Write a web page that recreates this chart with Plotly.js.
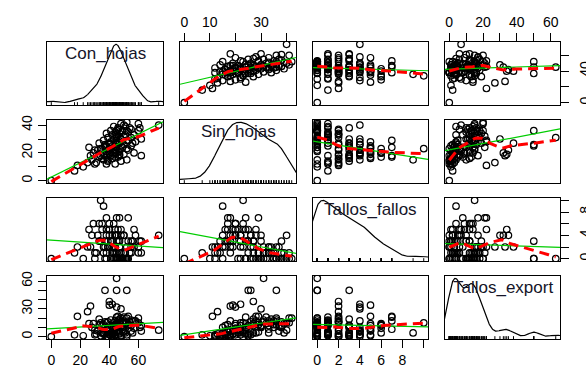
<!DOCTYPE html>
<html><head><meta charset="utf-8">
<script src="https://cdn.plot.ly/plotly-3.0.1.min.js"></script>
<style>html,body{margin:0;padding:0;background:#fff;}#chart{width:586px;height:367px;}</style>
</head><body><div id="chart"></div>
<script>
// ---- data ----
const varNames = ['Con_hojas', 'Sin_hojas', 'Tallos_fallos', 'Tallos_export'];
const conHojas = [0,16,18,22,25,27,37,45,52,45,40,42,45,48,40,74,60,52,61,34,36,38,45,47,53,
  30,38,44,39,31,52,28,48,35,42,57,62,33,46,41,36,50,29,44,38,47,53,32,43,40,35,49,26,45,42,55,37,50,44,33,47,58,41,46,36,52,43,48,39,55,45,50,42,57,47,38,53,44,49,60,46,54,51,43,48,40,34,52,45,56,37,44,30,62,41,
  46,50,43,48,55,42,38,44,47,40,49,51,45,39,44];
const sinHojas = [0,7,11,10,13,18,25,26,36,31,27,22,20,30,19,40,41,42,38,23,15,17,24,18,29,
  12,12,12,14,13,15,15,14,16,16,20,18,17,17,18,19,19,20,20,21,21,22,22,22,23,23,24,24,24,25,25,26,26,27,27,27,28,28,28,29,29,30,30,31,31,32,32,33,33,34,34,35,35,36,36,37,38,39,20,25,26,18,23,29,27,24,33,22,30,36,
  38,40,39,41,37,16,18,17,19,20,35,33,36,15,22];
const tallosFallos = [0,1,2,0,2,2,3,0,0,0,2,4,4,4,5,4,1,0,3,10,9,7,7,7,7,
  1,0,2,3,1,0,4,1,5,2,5,1,6,3,3,2,4,6,4,5,0,3,4,2,5,6,0,5,3,1,3,2,4,0,3,1,4,0,5,1,0,0,0,2,1,0,1,1,2,2,1,0,1,0,2,0,1,0,6,5,4,3,2,1,3,0,2,0,3,0,
  0,0,1,0,2,3,4,5,3,6,0,1,0,2,4];
const tallosExport = [0,2,22,1,27,33,50,50,50,63,38,35,32,30,34,7,15,20,10,15,4,8,21,17,22,
  2,0,1,0,3,2,10,1,12,3,9,6,13,5,2,3,6,14,2,7,4,12,6,15,6,4,8,14,10,3,12,16,5,12,19,14,17,4,22,13,15,10,11,16,18,14,21,12,17,19,15,13,17,16,20,11,16,14,12,1,2,1,0,5,4,3,8,7,12,18,
  12,15,4,20,6,1,0,2,3,9,10,4,13,0,2];

// tick positions and the labels R kept
const conTicks = [0, 20, 40, 60];
const conBottomLabels = ['0', '20', '40', '60'];
const conRightLabels = ['0', '', '40', ''];
const sinTicks = [0, 10, 20, 30, 40];
const sinTopLabels = ['0', '10', '', '30', ''];
const sinLeftLabels = ['0', '', '20', '', '40'];
const fallosTicks = [0, 2, 4, 6, 8, 10];
const fallosBottomLabels = ['0', '2', '4', '6', '8', ''];
const fallosRightLabels = ['0', '', '4', '', '8', ''];
const exportTicks = [0, 10, 20, 30, 40, 50, 60];
const exportTopLabels = ['0', '', '20', '', '40', '', '60'];
const exportLeftLabels = ['0', '', '', '30', '', '', '60'];

// ---- stats helpers ----
const vars = [conHojas, sinHojas, tallosFallos, tallosExport];
const mean = a => a.reduce((s, v) => s + v, 0) / a.length;
function sd(a) { const m = mean(a); return Math.sqrt(a.reduce((s, v) => s + (v - m) * (v - m), 0) / (a.length - 1)); }
function quantile(a, p) { const s = a.slice().sort((x, y) => x - y); const h = (s.length - 1) * p; const lo = Math.floor(h); return s[lo] + (h - lo) * ((s[Math.min(lo + 1, s.length - 1)]) - s[lo]); }
function median(a) { return quantile(a, 0.5); }
function bwNrd0(a) { const lo = Math.min(sd(a), (quantile(a, .75) - quantile(a, .25)) / 1.34); return 0.9 * lo * Math.pow(a.length, -0.2); }
function density(a) {
  const bw = bwNrd0(a), mn = Math.min(...a), mx = Math.max(...a);
  const g0 = mn - 3 * bw, g1 = mx + 3 * bw, xs = [], ys = [];
  for (let i = 0; i < 512; i++) {
    const g = g0 + (g1 - g0) * i / 511; let s = 0;
    for (const v of a) { const z = (g - v) / bw; s += Math.exp(-0.5 * z * z); }
    xs.push(g); ys.push(s / (a.length * bw * Math.sqrt(2 * Math.PI)));
  }
  return { xs, ys };
}
function lm(x, y) {
  const mx = mean(x), my = mean(y); let sxy = 0, sxx = 0;
  for (let i = 0; i < x.length; i++) { sxy += (x[i] - mx) * (y[i] - my); sxx += (x[i] - mx) ** 2; }
  const b = sxy / sxx; return { a: my - b * mx, b };
}
function loess(x, y, span, xs) {
  const n = x.length, q = Math.max(2, Math.floor(span * n));
  let rw = new Array(n).fill(1);
  function fitAt(x0) {
    const d = x.map(v => Math.abs(v - x0)); const sd2 = d.slice().sort((a, b) => a - b);
    let h = sd2[q - 1]; if (h <= 0) h = 1e-6; h *= 1.0001;
    let sw = 0, swx = 0, swy = 0, swxx = 0, swxy = 0;
    for (let i = 0; i < n; i++) {
      const u = d[i] / h; if (u >= 1) continue;
      const w = Math.pow(1 - u * u * u, 3) * rw[i]; if (w <= 0) continue;
      sw += w; swx += w * x[i]; swy += w * y[i]; swxx += w * x[i] * x[i]; swxy += w * x[i] * y[i];
    }
    if (sw === 0) return NaN;
    const den = sw * swxx - swx * swx;
    if (Math.abs(den) < 1e-9 * sw * sw) return swy / sw;
    const b = (sw * swxy - swx * swy) / den; return (swy - b * swx) / sw + b * x0;
  }
  for (let it = 0; it < 3; it++) {
    const res = x.map((v, i) => y[i] - fitAt(v));
    const s = median(res.map(Math.abs)) || 1e-6;
    rw = res.map(r => { const u = r / (6 * s); return Math.abs(u) < 1 ? (1 - u * u) ** 2 : 0; });
  }
  return xs.map(fitAt);
}

// ---- layout geometry (pixels) ----
const W = 586, H = 367;
const colPx = [[47, 163], [180, 296], [313, 428], [445, 560]];
const rowPx = [[42, 105], [120, 183], [198, 261], [276, 339]];
const ranges = vars.map(v => { const mn = Math.min(...v), mx = Math.max(...v), p = 0.04 * (mx - mn); return [mn - p, mx + p]; });

const traces = [], layout = {
  width: W, height: H, margin: { l: 0, r: 0, t: 0, b: 0, pad: 0 },
  paper_bgcolor: '#fff', plot_bgcolor: '#fff', showlegend: false,
  font: { family: 'Liberation Sans, Arial, sans-serif', color: '#000', size: 14 },
  annotations: []
};
function baseAxis(domain, range) {
  return { domain, range, showline: true, mirror: true, linecolor: '#000', linewidth: 1,
    showgrid: false, zeroline: false, ticks: '', showticklabels: false, fixedrange: true };
}
function withTicks(ax, side, vals, text, isY, standoff) {
  return Object.assign(ax, { side, ticks: 'outside', ticklen: 8, tickwidth: 1, tickcolor: '#000',
    tickmode: 'array', tickvals: vals, ticktext: text, showticklabels: true, ticklabelstandoff: standoff || 0,
    tickfont: { size: 14, color: '#000' }, tickangle: isY ? -90 : 0 });
}

for (let i = 0; i < 4; i++) {
  for (let j = 0; j < 4; j++) {
    const k = i * 4 + j + 1, xs = k === 1 ? 'x' : 'x' + k, ys = k === 1 ? 'y' : 'y' + k;
    const xdom = [colPx[j][0] / W, colPx[j][1] / W];
    const ydom = [1 - rowPx[i][1] / H, 1 - rowPx[i][0] / H];
    const xa = baseAxis(xdom, ranges[j]); xa.anchor = ys;
    const ya = baseAxis(ydom, ranges[i]); ya.anchor = xs;
    // outer axes like R pairs()
    if (i === 0 && j === 1) withTicks(xa, 'top', sinTicks, sinTopLabels, false);
    if (i === 0 && j === 3) withTicks(xa, 'top', exportTicks, exportTopLabels, false);
    if (i === 3 && j === 0) withTicks(xa, 'bottom', conTicks, conBottomLabels, false);
    if (i === 3 && j === 2) withTicks(xa, 'bottom', fallosTicks, fallosBottomLabels, false);
    if (j === 0 && i === 1) withTicks(ya, 'left', sinTicks, sinLeftLabels, true);
    if (j === 0 && i === 3) withTicks(ya, 'left', exportTicks, exportLeftLabels, true);
    if (j === 3 && i === 0) withTicks(ya, 'right', conTicks, conRightLabels, true, 4);
    if (j === 3 && i === 2) withTicks(ya, 'right', fallosTicks, fallosRightLabels, true, 4);
    layout[k === 1 ? 'xaxis' : 'xaxis' + k] = xa;
    layout[k === 1 ? 'yaxis' : 'yaxis' + k] = ya;

    if (i === j) {
      const v = vars[i], d = density(v), vmin = Math.min(...v), vmax = Math.max(...v);
      const dmin = Math.min(...d.ys), dmax = Math.max(...d.ys);
      traces.push({ type: 'scatter', mode: 'lines', xaxis: xs, yaxis: ys, x: d.xs,
        y: d.ys.map(y => vmin + (y - dmin) * (vmax - vmin) / (dmax - dmin)),
        line: { color: '#000', width: 1.2 }, hoverinfo: 'skip' });
      const r = ranges[i], rx = [], ry = [], th = 0.045 * (r[1] - r[0]);
      for (const val of v) { rx.push(val, val, null); ry.push(r[0], r[0] + th, null); }
      traces.push({ type: 'scatter', mode: 'lines', xaxis: xs, yaxis: ys, x: rx, y: ry,
        line: { color: '#000', width: 1 }, hoverinfo: 'skip' });
      layout.annotations.push({ xref: 'paper', yref: 'paper', x: (colPx[j][0] + colPx[j][1]) / 2 / W,
        y: 1 - (rowPx[i][0] + 11) / H, xanchor: 'center', yanchor: 'middle', showarrow: false,
        text: varNames[i], font: { size: 17, color: '#141428' } });
    } else {
      const xv = vars[j], yv = vars[i];
      traces.push({ type: 'scatter', mode: 'markers', xaxis: xs, yaxis: ys, x: xv, y: yv,
        marker: { symbol: 'circle-open', size: 6.5, color: '#000', line: { width: 1.2, color: '#000' } }, hoverinfo: 'skip' });
      const f = lm(xv, yv), xr = ranges[j];
      traces.push({ type: 'scatter', mode: 'lines', xaxis: xs, yaxis: ys, x: xr,
        y: xr.map(t => f.a + f.b * t), line: { color: '#00CD00', width: 1.2 }, hoverinfo: 'skip' });
      const mn = Math.min(...xv), mx = Math.max(...xv), grid = [];
      for (let g = 0; g < 60; g++) grid.push(mn + (mx - mn) * g / 59);
      traces.push({ type: 'scatter', mode: 'lines', xaxis: xs, yaxis: ys, x: grid,
        y: loess(xv, yv, 0.5, grid), line: { color: '#FF0000', width: 3, dash: '10px,6px' }, hoverinfo: 'skip' });
    }
  }
}
Plotly.newPlot('chart', traces, layout, { staticPlot: true, displayModeBar: false });
</script></body></html>
